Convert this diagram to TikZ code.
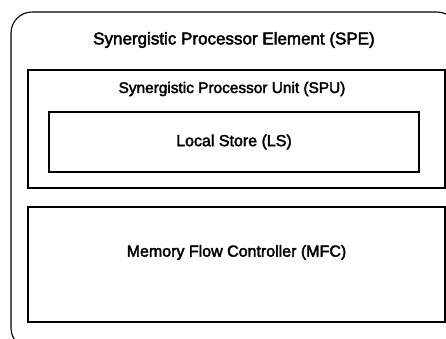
\documentclass[tikz,border=0pt]{standalone}
\usepackage{fontspec}
\setmainfont{Liberation Sans}
\newfontfamily\blockfont[FakeBold=2.5]{Liberation Sans}
\usetikzlibrary{positioning}

\begin{document}
\begin{tikzpicture}[
  x=1pt, y=-1pt,
  spebox/.style={rectangle, draw, line width=1.1pt, rounded corners=21pt, inner sep=0pt},
  unitbox/.style={rectangle, draw, line width=1.3pt, inner sep=0pt},
  title/.style={inner sep=0pt, font=\blockfont\fontsize{16}{18}\selectfont},
  bigtitle/.style={inner sep=0pt, font=\blockfont\fontsize{17}{19}\selectfont}
]
\useasboundingbox (0,0) rectangle (446,338);

% outer element, runs off the right and bottom
\node[spebox, minimum width=447pt, minimum height=337pt] (spe) at (234.5,180.5) {};
\node[bigtitle] (spelbl) at (234,40) {Synergistic Processor Element (SPE)};

% processor unit with its local store
\node[unitbox, minimum width=417pt, minimum height=118pt] (spu) at (236.5,129) {};
\node[title, font=\blockfont\fontsize{15.4}{17}\selectfont] (spulbl) at (232,89) {Synergistic Processor Unit (SPU)};
\node[unitbox, title, minimum width=370pt, minimum height=60pt] (ls) at (234,142) {Local Store (LS)};

% flow controller
\node[unitbox, minimum width=417pt, minimum height=115pt] (mfc) at (236.5,264.5) {};
\node[title] (mfclbl) at ([yshift=12pt]mfc.center) {Memory Flow Controller (MFC)};
\end{tikzpicture}
\end{document}
